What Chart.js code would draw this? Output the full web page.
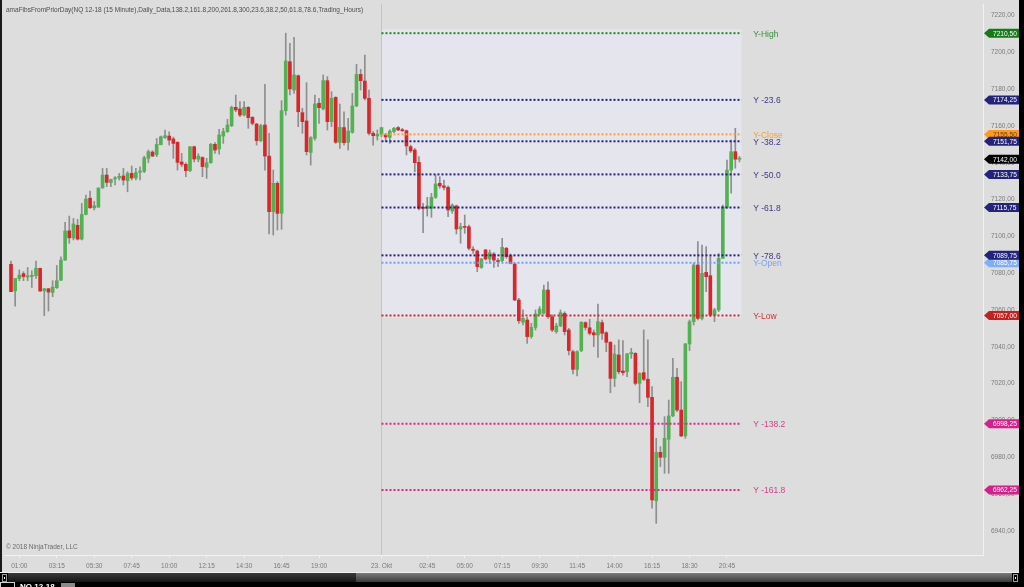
<!DOCTYPE html>
<html>
<head>
<meta charset="utf-8">
<script src="https://cdn.jsdelivr.net/npm/chart.js@4.4.1/dist/chart.umd.min.js"></script>
<style>
    html, body { margin: 0; padding: 0; background: #000; }
    #wrap { width: 1024px; height: 587px; }
</style>
</head>
<body>
<div id="wrap"><canvas id="chart" width="1024" height="587"></canvas></div>
<script>
// NQ 12-18, 15 minute bars, 22. Okt (bars 0..88) and 23. Okt (bars 89..175)
const opens = [
    7084.9, 7070.4, 7077.2, 7079.8, 7078.0, 7078.2, 7078.7, 7082.7, 7070.5, 7071.6,
    7069.6, 7072.2, 7076.3, 7087.2, 7103.1, 7099.2, 7106.1, 7098.6, 7112.0, 7120.8,
    7115.6, 7116.0, 7126.5, 7133.4, 7129.3, 7131.3, 7131.9, 7132.9, 7130.3, 7134.3,
    7131.8, 7134.9, 7135.4, 7142.5, 7145.9, 7144.5, 7149.9, 7153.7, 7154.6, 7153.0,
    7151.2, 7140.5, 7139.2, 7135.8, 7148.8, 7142.0, 7142.9, 7137.6, 7140.1, 7150.1,
    7147.6, 7154.6, 7157.0, 7160.2, 7170.2, 7169.3, 7166.0, 7170.2, 7164.8, 7161.1,
    7152.1, 7160.6, 7143.7, 7113.5, 7128.9, 7112.6, 7168.4, 7195.0, 7179.6, 7187.4,
    7167.3, 7162.8, 7145.7, 7153.4, 7172.4, 7169.3, 7184.7, 7162.4, 7175.6, 7151.2,
    7159.2, 7151.2, 7156.6, 7170.9, 7188.1, 7184.5, 7175.1, 7156.1, 7154.6, 7155.5,
    7155.2, 7153.9, 7157.0, 7159.2, 7158.0, 7157.5, 7148.8, 7147.0, 7140.3, 7115.8,
    7115.3, 7115.3, 7121.3, 7128.9, 7127.5, 7126.7, 7113.9, 7116.6, 7104.1, 7105.3,
    7105.3, 7093.1, 7092.1, 7083.2, 7092.7, 7087.8, 7090.5, 7086.9, 7086.9, 7093.6,
    7089.6, 7085.1, 7065.5, 7053.4, 7054.6, 7045.6, 7050.6, 7057.9, 7058.3, 7070.9,
    7056.4, 7048.3, 7051.4, 7058.2, 7049.2, 7037.4, 7027.8, 7038.0, 7053.2, 7050.4,
    7047.7, 7046.5, 7053.2, 7047.7, 7042.5, 7022.9, 7035.6, 7026.9, 7026.5, 7036.2,
    7036.5, 7020.2, 7026.0, 7022.4, 7012.6, 6956.4, 6982.7, 6980.0, 6989.8, 7002.5,
    7023.5, 7005.7, 6991.6, 7041.6, 7053.7, 7084.5, 7055.5, 7080.5, 7078.7, 7057.3,
    7060.1, 7088.1, 7115.8, 7136.1, 7146.1, 7142.0,
];
const highs = [
    7086.7, 7071.0, 7081.8, 7080.9, 7083.2, 7081.4, 7086.7, 7082.9, 7071.8, 7071.8,
    7076.0, 7084.3, 7089.0, 7107.7, 7111.1, 7109.8, 7109.3, 7118.0, 7122.5, 7124.7,
    7119.1, 7126.5, 7137.0, 7137.0, 7131.2, 7132.5, 7134.3, 7137.0, 7135.2, 7138.3,
    7137.0, 7137.9, 7143.7, 7147.0, 7146.6, 7153.3, 7154.6, 7157.9, 7156.9, 7154.0,
    7151.5, 7145.2, 7140.0, 7148.8, 7149.2, 7145.0, 7143.4, 7142.5, 7150.6, 7151.0,
    7158.2, 7158.8, 7163.7, 7170.9, 7176.9, 7173.3, 7173.3, 7170.6, 7165.1, 7161.5,
    7161.0, 7182.7, 7156.1, 7136.1, 7129.8, 7173.8, 7210.5, 7205.0, 7208.2, 7187.8,
    7169.7, 7183.6, 7154.3, 7176.9, 7175.1, 7187.8, 7186.9, 7178.7, 7176.0, 7172.0,
    7167.8, 7164.2, 7177.8, 7193.6, 7190.8, 7198.6, 7179.6, 7157.0, 7157.9, 7159.2,
    7156.0, 7158.0, 7159.3, 7159.7, 7158.8, 7157.9, 7149.7, 7147.9, 7143.4, 7118.0,
    7121.3, 7123.5, 7133.4, 7132.5, 7130.7, 7127.5, 7117.7, 7117.1, 7107.2, 7111.7,
    7106.2, 7094.5, 7092.7, 7088.1, 7093.0, 7092.7, 7091.2, 7088.1, 7099.0, 7094.1,
    7090.5, 7085.4, 7066.4, 7060.1, 7056.1, 7052.8, 7060.1, 7061.9, 7073.6, 7075.4,
    7057.4, 7052.8, 7060.1, 7059.1, 7050.1, 7038.3, 7037.9, 7053.7, 7053.7, 7055.0,
    7049.2, 7063.3, 7054.6, 7048.3, 7042.9, 7041.0, 7043.8, 7043.4, 7036.5, 7039.2,
    7036.9, 7026.0, 7049.2, 7043.8, 7018.4, 6990.3, 6985.8, 7002.1, 7011.1, 7033.8,
    7028.4, 7021.1, 7041.9, 7054.6, 7085.4, 7097.2, 7095.4, 7094.5, 7089.0, 7061.0,
    7090.8, 7117.1, 7141.6, 7152.4, 7158.8, 7143.5,
];
const lows = [
    7070.0, 7062.2, 7076.0, 7076.0, 7076.0, 7072.3, 7077.2, 7070.0, 7057.0, 7059.5,
    7067.3, 7071.8, 7076.0, 7087.0, 7096.3, 7098.1, 7098.1, 7098.1, 7111.7, 7115.3,
    7114.4, 7115.8, 7126.1, 7127.1, 7127.1, 7128.0, 7130.7, 7128.0, 7124.3, 7130.7,
    7130.7, 7130.7, 7134.7, 7140.1, 7143.4, 7143.4, 7149.8, 7153.3, 7149.7, 7142.5,
    7136.1, 7137.9, 7132.5, 7135.3, 7140.6, 7140.6, 7132.5, 7131.6, 7139.8, 7145.2,
    7144.8, 7150.6, 7156.6, 7159.7, 7167.8, 7165.1, 7165.5, 7158.8, 7160.6, 7149.7,
    7151.5, 7136.1, 7101.4, 7100.8, 7103.5, 7103.9, 7166.0, 7176.9, 7177.8, 7159.7,
    7156.1, 7144.3, 7138.8, 7152.4, 7161.5, 7168.8, 7157.9, 7159.7, 7150.6, 7147.9,
    7149.7, 7147.0, 7156.1, 7170.6, 7179.6, 7174.2, 7155.2, 7149.7, 7152.4, 7154.3,
    7151.5, 7150.6, 7156.4, 7157.5, 7157.0, 7144.3, 7145.6, 7135.2, 7114.4, 7102.1,
    7111.1, 7110.4, 7120.7, 7126.2, 7125.3, 7110.8, 7112.6, 7101.4, 7096.3, 7101.7,
    7092.7, 7090.8, 7080.9, 7082.7, 7087.2, 7085.4, 7083.2, 7083.6, 7086.3, 7088.1,
    7085.1, 7065.1, 7052.8, 7051.9, 7041.9, 7044.7, 7049.2, 7057.4, 7057.9, 7055.5,
    7048.3, 7047.4, 7051.0, 7046.5, 7035.6, 7025.3, 7024.2, 7037.4, 7049.2, 7046.5,
    7040.1, 7034.3, 7044.1, 7037.4, 7015.1, 7018.4, 7025.3, 7024.7, 7023.8, 7033.8,
    7019.3, 7009.7, 7021.6, 7007.5, 6952.3, 6944.1, 6974.9, 6971.3, 6971.3, 7002.1,
    7004.8, 6991.2, 6990.3, 7038.0, 7051.9, 7054.6, 7054.6, 7070.0, 7056.4, 7053.7,
    7059.2, 7088.1, 7115.3, 7123.5, 7137.1, 7140.5,
];
const closes = [
    7070.0, 7077.2, 7079.0, 7078.2, 7078.7, 7078.9, 7082.7, 7070.4, 7071.6, 7069.8,
    7072.5, 7076.0, 7087.2, 7103.0, 7099.3, 7106.8, 7098.6, 7112.0, 7120.4, 7115.6,
    7116.7, 7126.3, 7133.4, 7129.4, 7131.0, 7131.9, 7132.7, 7130.7, 7134.3, 7131.8,
    7134.7, 7135.6, 7142.8, 7146.1, 7143.7, 7150.1, 7154.2, 7154.8, 7152.4, 7150.6,
    7140.3, 7139.2, 7135.8, 7148.8, 7142.1, 7143.7, 7138.0, 7140.1, 7150.1, 7147.0,
    7155.2, 7157.0, 7160.6, 7170.2, 7168.8, 7166.0, 7170.2, 7164.6, 7161.5, 7152.1,
    7160.2, 7143.7, 7113.5, 7128.9, 7112.6, 7168.4, 7195.4, 7180.2, 7187.8, 7167.8,
    7162.4, 7146.1, 7153.7, 7172.0, 7170.0, 7184.7, 7162.4, 7175.1, 7151.2, 7159.3,
    7151.0, 7157.3, 7170.9, 7188.1, 7184.7, 7175.1, 7156.1, 7154.8, 7155.5, 7159.2,
    7154.1, 7157.3, 7158.8, 7157.9, 7157.5, 7149.2, 7146.5, 7140.1, 7115.3, 7115.3,
    7116.6, 7121.3, 7128.5, 7127.5, 7126.7, 7114.4, 7117.1, 7104.1, 7105.3, 7105.0,
    7093.6, 7092.5, 7083.6, 7087.8, 7087.8, 7091.2, 7087.2, 7086.3, 7094.1, 7089.0,
    7085.4, 7065.5, 7054.2, 7055.5, 7045.6, 7050.6, 7057.9, 7060.6, 7070.9, 7056.4,
    7049.2, 7051.4, 7058.6, 7048.3, 7038.0, 7027.8, 7037.4, 7053.4, 7050.6, 7047.4,
    7046.5, 7053.7, 7047.4, 7042.5, 7022.9, 7036.2, 7026.5, 7026.0, 7036.2, 7037.0,
    7020.2, 7025.6, 7022.4, 7012.6, 6956.8, 6982.7, 6980.0, 6990.3, 7002.5, 7023.5,
    7005.7, 6991.6, 7041.6, 7053.7, 7084.5, 7055.5, 7080.0, 7078.2, 7057.3, 7060.1,
    7088.1, 7116.2, 7136.1, 7146.1, 7142.0, 7142.0,
];

const sessionStart = 89;
const lastPrice = 7142.0;

const fibNames = ['Y-High', 'Y -23.6', 'Y-Close', 'Y -38.2', 'Y -50.0', 'Y -61.8', 'Y -78.6', 'Y-Open', 'Y-Low', 'Y -138.2', 'Y -161.8'];
const fibValues = [7210.5, 7174.25, 7155.5, 7151.75, 7133.75, 7115.75, 7089.75, 7085.75, 7057.0, 6998.25, 6962.25];

const timeTickIndex = [2, 11, 20, 29, 38, 47, 56, 65, 74, 89, 100, 109, 118, 127, 136, 145, 154, 163, 172];
const timeTickLabels = ['01:00', '03:15', '05:30', '07:45', '10:00', '12:15', '14:30', '16:45', '19:00', '23. Okt', '02:45', '05:00', '07:15', '09:30', '11:45', '14:00', '16:15', '18:30', '20:45'];
const priceTicks = [6940, 6960, 6980, 7000, 7020, 7040, 7060, 7080, 7100, 7120, 7140, 7160, 7180, 7200, 7220];

// styles
const UP = '#52b252';
const DOWN = '#d8262a';
const WICK = '#8e8e8e';
const NAVY = '#23237e';
const MAGENTA = '#d42a8c';
const fibColors = ['#1e8c1e', NAVY, '#ffa12a', NAVY, NAVY, NAVY, NAVY, '#72a0f2', '#cc2a2a', MAGENTA, MAGENTA];
const fibTextColors = ['#3a8f3a', '#3a3a86', '#f5a030', '#3a3a86', '#3a3a86', '#3a3a86', '#3a3a86', '#7aa2ee', '#c83434', '#d0408e', '#d0408e'];
const tagColors = ['#17791a', '#23237a', '#ff9a1c', '#23237a', '#23237a', '#23237a', '#23237a', '#7fb0f5', '#c42020', '#d4208c', '#d4208c'];
const tagOrder = [0, 1, 2, 3, 4, 5, 7, 6, 8, 9, 10];
const FONT = "'Liberation Sans', Arial, sans-serif";

const idx = closes.map((_, i) => i);
const lineEnd = closes.length - 0.5;

const fibDatasets = fibValues.map((v, k) => ({
    type: 'line',
    data: [{ x: sessionStart, y: v }, { x: lineEnd, y: v }],
    borderColor: fibColors[k],
    borderWidth: 2,
    borderDash: [2, 2],
    pointRadius: 0,
    order: 0,
}));

const backdrop = {
    id: 'backdrop',
    beforeDraw(chart) {
        const { ctx, width, height } = chart;
        ctx.save();
        ctx.fillStyle = '#dddddd';
        ctx.fillRect(0, 0, width, height);
        ctx.fillStyle = '#1a1a1a';
        ctx.fillRect(0, 0, 2, height);
        ctx.fillStyle = '#000';
        ctx.fillRect(1019, 0, 5, height);
        ctx.restore();
    },
    beforeDatasetsDraw(chart) {
        const { ctx, chartArea, scales: { x, y } } = chart;
        const x0 = x.getPixelForValue(sessionStart);
        const x1 = x.getPixelForValue(lineEnd);
        const yTop = y.getPixelForValue(fibValues[0]);
        const yLow = y.getPixelForValue(fibValues[8]);
        ctx.save();
        ctx.fillStyle = '#e5e5ee';
        ctx.fillRect(x0, yTop - 4, x1 - x0, yLow - yTop + 6);
        ctx.strokeStyle = '#c4c4c4';
        ctx.lineWidth = 1;
        ctx.beginPath();
        ctx.moveTo(Math.round(x0) + 0.5, chartArea.top);
        ctx.lineTo(Math.round(x0) + 0.5, chartArea.bottom);
        ctx.stroke();
        ctx.restore();
    },
    afterDatasetsDraw(chart) {
        const { ctx, scales: { x, y } } = chart;
        const lx = x.getPixelForValue(closes.length + 2.3);
        ctx.save();
        ctx.font = `8.5px ${FONT}`;
        ctx.textBaseline = 'middle';
        fibValues.forEach((v, k) => {
            ctx.fillStyle = fibTextColors[k];
            ctx.fillText(fibNames[k], lx, y.getPixelForValue(v) + 1);
        });
        ctx.restore();
    },
    afterDraw(chart) {
        const { ctx, chartArea, scales: { y } } = chart;
        ctx.save();
        const fmt = (v) => v.toFixed(2).replace('.', ',');
        const tag = (v, fill, textColor) => {
            const py = y.getPixelForValue(v);
            const left = chartArea.right + 1;
            ctx.fillStyle = fill;
            ctx.beginPath();
            ctx.moveTo(left, py);
            ctx.lineTo(left + 5, py - 4.5);
            ctx.lineTo(1019, py - 4.5);
            ctx.lineTo(1019, py + 4.5);
            ctx.lineTo(left + 5, py + 4.5);
            ctx.closePath();
            ctx.fill();
            ctx.fillStyle = textColor;
            ctx.font = `6.6px ${FONT}`;
            ctx.textBaseline = 'middle';
            ctx.fillText(fmt(v), left + 9, py + 0.5);
        };
        tagOrder.forEach((k) => tag(fibValues[k], tagColors[k], k === 2 ? '#6a3c00' : '#ffffff'));
        tag(lastPrice, '#000000', '#ffffff');

        // header / footer texts
        ctx.font = `6.5px ${FONT}`;
        ctx.textBaseline = 'middle';
        ctx.fillStyle = '#4c4c4c';
        ctx.fillText('amaFibsFromPriorDay(NQ 12-18 (15 Minute),Daily_Data,138.2,161.8,200,261.8,300,23.6,38.2,50,61.8,78.6,Trading_Hours)', 6, 10);
        ctx.fillStyle = '#6a6a6a';
        ctx.fillText('\u00a9 2018 NinjaTrader, LLC', 6, 547);

        // scrollbar strip
        ctx.fillStyle = '#f0f0f0';
        ctx.fillRect(0, 572, 1019, 1);
        ctx.fillStyle = '#000';
        ctx.fillRect(0, 573, 1024, 14);
        let g = ctx.createLinearGradient(0, 573, 0, 582);
        g.addColorStop(0, '#3a3a3a');
        g.addColorStop(1, '#151515');
        ctx.fillStyle = g;
        ctx.fillRect(8, 573, 348, 9);
        g = ctx.createLinearGradient(0, 573, 0, 582);
        g.addColorStop(0, '#7a7a7a');
        g.addColorStop(1, '#3a3a3a');
        ctx.fillStyle = g;
        ctx.fillRect(356, 573, 656, 9);
        ctx.strokeStyle = '#9a9a9a';
        ctx.lineWidth = 1;
        ctx.strokeRect(2.5, 574.5, 4, 7);
        ctx.strokeRect(1013.5, 574.5, 4, 7);
        ctx.fillStyle = '#fff';
        ctx.fillRect(4, 577, 1, 2);
        ctx.fillRect(1015, 577, 1, 2);
        ctx.strokeStyle = '#cfcfcf';
        ctx.strokeRect(0.5, 582.5, 14, 6);
        ctx.fillStyle = '#ffffff';
        ctx.font = `bold 8px ${FONT}`;
        ctx.textBaseline = 'top';
        ctx.fillText('NQ 12-18', 20, 583);
        ctx.fillStyle = '#8a8a8a';
        ctx.fillRect(61, 583, 14, 4);
        ctx.restore();
    },
};

new Chart(document.getElementById('chart'), {
    type: 'bar',
    data: {
        datasets: [
            ...fibDatasets,
            {
                type: 'bar',
                data: idx.map((i) => ({ x: i, y: [opens[i], closes[i]] })),
                backgroundColor: idx.map((i) => (closes[i] >= opens[i] ? UP : DOWN)),
                barThickness: 3,
                minBarLength: 1,
                grouped: false,
                order: 1,
            },
            {
                type: 'bar',
                data: idx.map((i) => ({ x: i, y: [lows[i], highs[i]] })),
                backgroundColor: WICK,
                barThickness: 1,
                minBarLength: 1,
                grouped: false,
                order: 2,
            },
        ],
    },
    options: {
        responsive: false,
        animation: false,
        devicePixelRatio: 1,
        layout: { padding: { left: 4, right: 5, top: 4, bottom: 15 } },
        plugins: { legend: { display: false }, tooltip: { enabled: false } },
        scales: {
            x: {
                type: 'linear',
                offset: false,
                min: -1.68,
                max: 233.5,
                afterBuildTicks: (axis) => { axis.ticks = timeTickIndex.map((v) => ({ value: v })); },
                afterFit: (axis) => { axis.height = 17; axis.paddingLeft = 0; axis.paddingRight = 0; },
                ticks: {
                    autoSkip: false,
                    maxRotation: 0,
                    padding: 4,
                    color: '#7a7a7a',
                    font: { family: FONT, size: 6.5 },
                    callback: (value, index) => timeTickLabels[index],
                },
                grid: { display: true, drawOnChartArea: false, drawTicks: true, tickLength: 3, color: '#f2f2f2', offset: false },
                border: { display: true, color: '#f2f2f2' },
            },
            y: {
                type: 'linear',
                position: 'right',
                min: 6926.9,
                max: 7226.36,
                afterBuildTicks: (axis) => { axis.ticks = priceTicks.map((v) => ({ value: v })); },
                afterFit: (axis) => { axis.width = 36; axis.paddingTop = 0; axis.paddingBottom = 0; },
                ticks: {
                    padding: 8,
                    color: '#7a7a7a',
                    font: { family: FONT, size: 6.5 },
                    callback: (value) => value.toFixed(2).replace('.', ','),
                },
                grid: { display: false, drawTicks: false },
                border: { display: true, color: '#f2f2f2' },
            },
        },
    },
    plugins: [backdrop],
});
</script>
</body>
</html>
